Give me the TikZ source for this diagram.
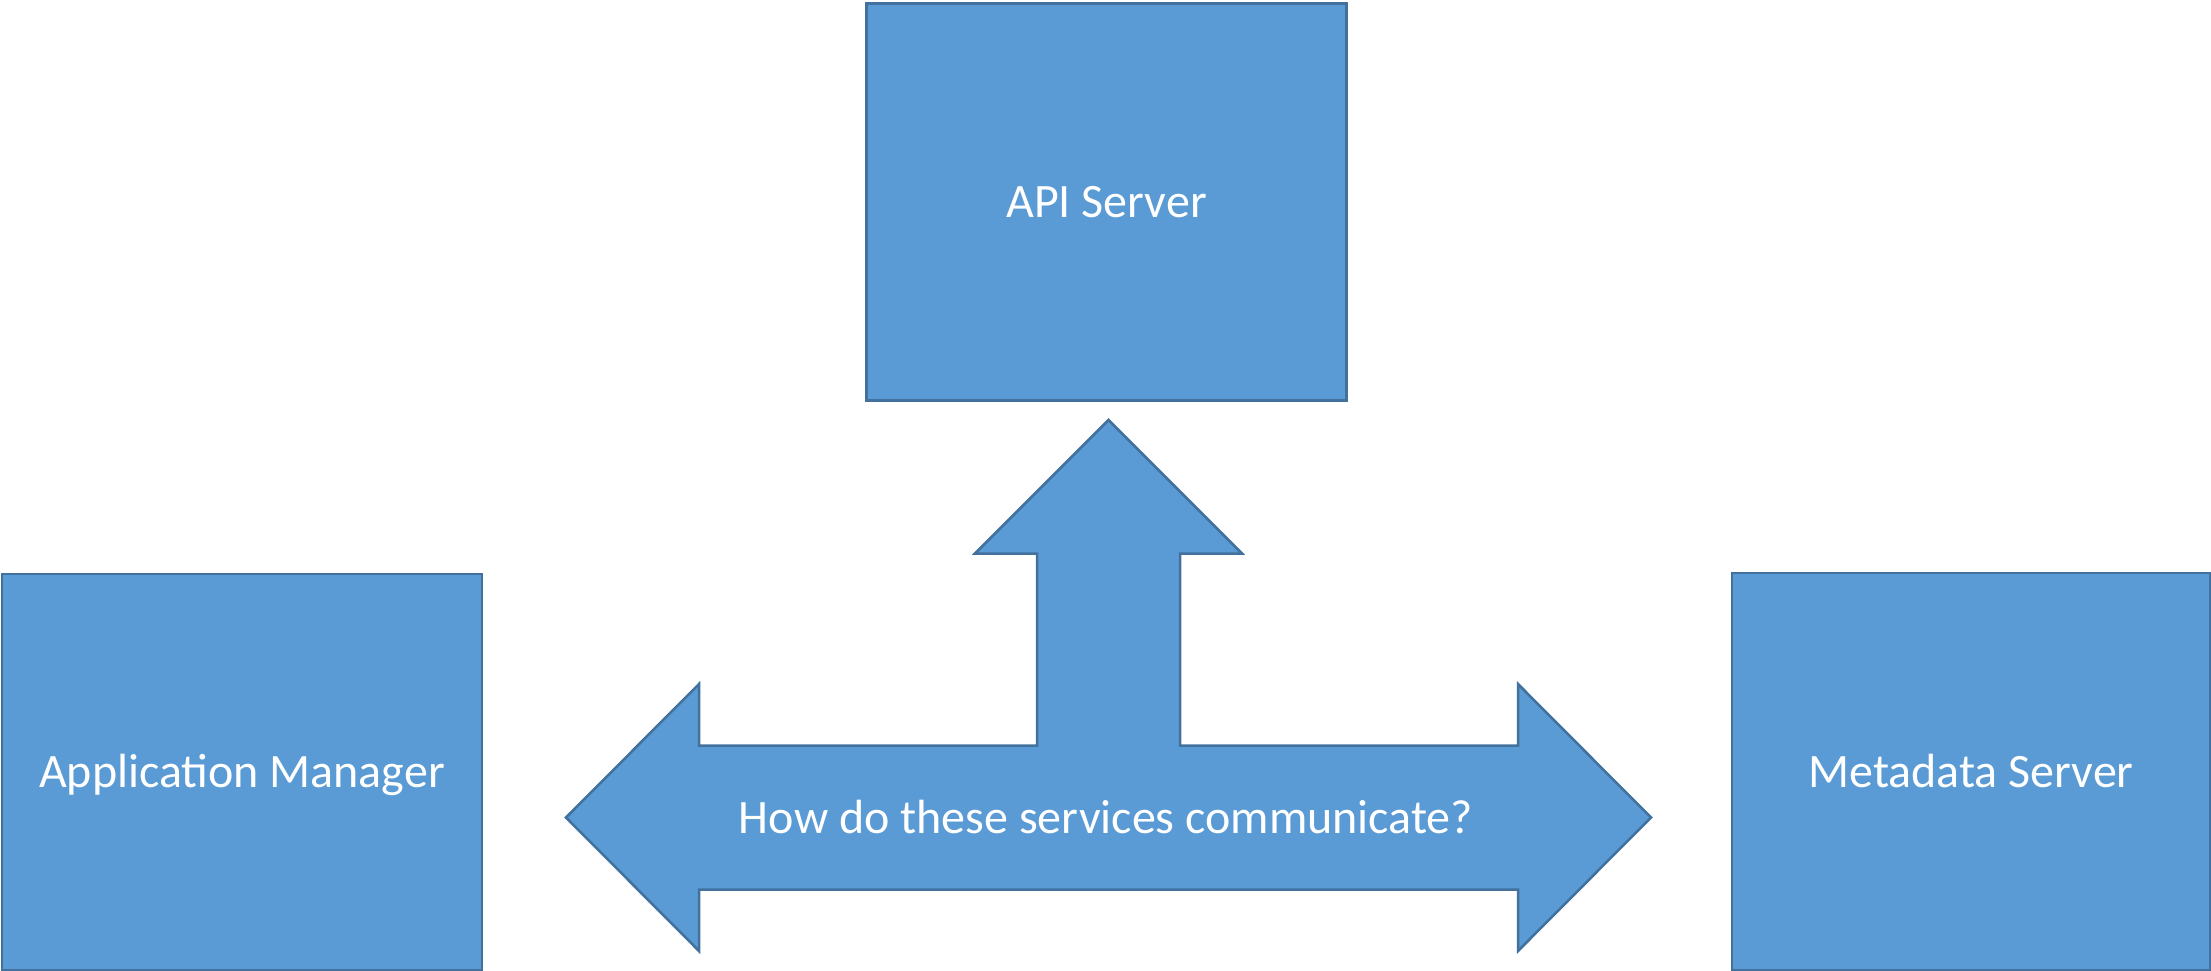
\documentclass[tikz,border=0pt]{standalone}
\usepackage{fontspec}
\setmainfont{Carlito}
\definecolor{boxfill}{HTML}{5B9BD5}
\definecolor{boxline}{HTML}{41719C}
\tikzset{
  labeltext/.style={text=white, font=\fontsize{48}{56}\selectfont,
    text height=31pt, text depth=0pt},
  svcbox/.style={labeltext, draw=boxline, fill=boxfill, line width=2.5pt, inner sep=0pt},
  bigarrow/.style={draw=boxline, fill=boxfill, line width=2.5pt, line join=miter},
  arrowlabel/.style={labeltext, inner sep=0pt}
}
\begin{document}
\begin{tikzpicture}[x=1pt, y=-1pt]
\useasboundingbox (0,0) rectangle (2211,971);

% service boxes
\node[svcbox, minimum width=480pt, minimum height=397pt] (api) at (1106.5,202) {API Server};
\node[svcbox, minimum width=480pt, minimum height=396pt] (appmgr) at (242,772) {Application Manager};
\node[svcbox, minimum width=478pt, minimum height=397pt] (meta) at (1971,771.5) {Metadata Server};

% three-way block arrow
\draw[bigarrow]
  (566,817.5) -- (699,684) -- (699,745.5) -- (1037,745.5) -- (1037,553.5)
  -- (975,553.5) -- (1108.5,420) -- (1242,553.5) -- (1180,553.5)
  -- (1180,745.5) -- (1518,745.5) -- (1518,684) -- (1651,817.5)
  -- (1518,951) -- (1518,889.5) -- (699,889.5) -- (699,951) -- cycle;

\node[arrowlabel] (question) at (1106,818) {How do these services communicate?};
\end{tikzpicture}
\end{document}
